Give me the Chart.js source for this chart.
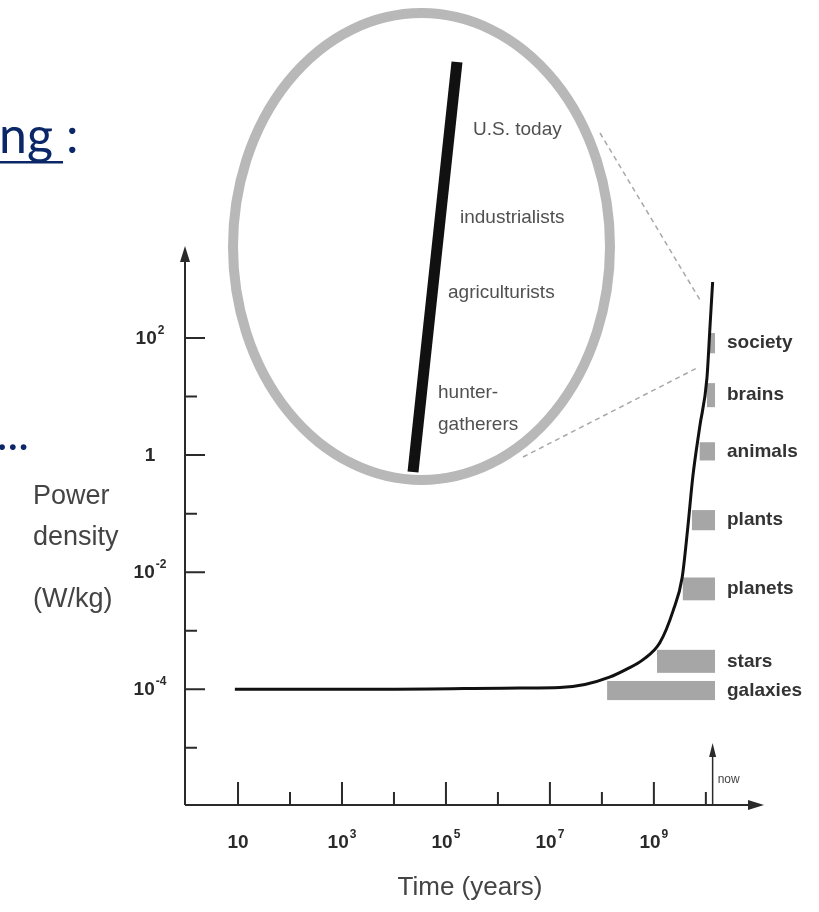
<!DOCTYPE html>
<html>
<head>
<meta charset="utf-8">
<script src="https://cdn.jsdelivr.net/npm/chart.js@4.4.1/dist/chart.umd.min.js"></script>
<style>
  body { margin: 0; background: #fff; }
  #wrap { width: 819px; height: 912px; }
</style>
</head>
<body>
<div id="wrap"><canvas id="powerChart" width="819" height="912"></canvas></div>
<script>
// curve: power density vs time (years)
const timeYears = [8.7, 8e3, 2.6e6, 1.55e7, 4.7e7, 1.4e8, 3.0e8, 6.2e8, 1.3e9, 2.35e9, 3.5e9, 4.5e9, 5.6e9, 7.6e9, 1.05e10, 1.2e10, 1.35e10];
const powerDensity = [1e-4, 1e-4, 1.05e-4, 1.07e-4, 1.2e-4, 1.6e-4, 2.2e-4, 3.2e-4, 6.2e-4, 2.2e-3, 8.1e-3, 0.059, 0.42, 3.0, 21, 155, 910];

// grey range boxes
const boxNames = ['society', 'brains', 'animals', 'plants', 'planets', 'stars', 'galaxies'];
const boxStart = [1.15e10, 1.05e10, 7.6e9, 5.4e9, 3.6e9, 1.15e9, 1.26e8];
const boxEnd = [1.5e10, 1.5e10, 1.5e10, 1.5e10, 1.5e10, 1.5e10, 1.5e10];
const boxHigh = [122, 17, 1.66, 0.115, 8.1e-3, 4.7e-4, 1.38e-4];
const boxLow = [55, 6.6, 0.81, 0.052, 3.3e-3, 1.9e-4, 6.5e-5];

// ticks
const xMajorTicks = [1e1, 1e3, 1e5, 1e7, 1e9];
const xMinorTicks = [1e2, 1e4, 1e6, 1e8, 1e10];
const yMajorTicks = [1e2, 1, 1e-2, 1e-4];
const yMinorTicks = [1e1, 1e-1, 1e-3, 1e-5];
const nowYears = 1.35e10;

const insetLabels = ['U.S. today', 'industrialists', 'agriculturists', 'hunter-', 'gatherers'];

const ink = '#2a2a2a';

function drawPow(ctx, value, cx, cy) {
  const exp = Math.round(Math.log10(value));
  const base = exp === 0 ? '1' : '10';
  const sup = (exp === 0 || exp === 1) ? '' : String(exp);
  ctx.font = 'bold 19px "Liberation Sans", Arial, sans-serif';
  const wb = ctx.measureText(base).width;
  ctx.font = 'bold 12px "Liberation Sans", Arial, sans-serif';
  const ws = sup ? ctx.measureText(sup).width + 1 : 0;
  const left = cx - (wb + ws) / 2;
  ctx.fillStyle = ink;
  ctx.textAlign = 'left';
  ctx.textBaseline = 'middle';
  ctx.font = 'bold 19px "Liberation Sans", Arial, sans-serif';
  ctx.fillText(base, left, cy);
  if (sup) {
    ctx.font = 'bold 12px "Liberation Sans", Arial, sans-serif';
    ctx.fillText(sup, left + wb + 1, cy - 8);
  }
}

function arrow(ctx, x, y, dir, len, half) {
  ctx.beginPath();
  if (dir === 'up') {
    ctx.moveTo(x, y); ctx.lineTo(x - half, y + len); ctx.lineTo(x + half, y + len);
  } else {
    ctx.moveTo(x, y); ctx.lineTo(x - len, y - half); ctx.lineTo(x - len, y + half);
  }
  ctx.closePath();
  ctx.fill();
}

const decorPlugin = {
  id: 'decor',
  beforeDraw(chart) {
    const ctx = chart.ctx;
    ctx.save();
    ctx.fillStyle = '#fff';
    ctx.fillRect(0, 0, chart.width, chart.height);

    // slide text cut off at the left
    ctx.fillStyle = '#0c2767';
    ctx.font = '50px Lato, "Open Sans", sans-serif';
    ctx.textAlign = 'left';
    ctx.textBaseline = 'alphabetic';
    ctx.fillText('ng', -1, 153);
    ctx.fillText(':', 66, 153);
    ctx.fillRect(0, 161, 63, 2.5);
    ctx.font = 'italic 46px Lato, "Open Sans", sans-serif';
    ctx.fillText('...', -2, 450);

    // y-axis title
    ctx.fillStyle = '#444';
    ctx.font = '27px "Liberation Sans", Arial, sans-serif';
    ctx.textBaseline = 'middle';
    ctx.fillText('Power', 33, 497);
    ctx.fillText('density', 33, 538);
    ctx.fillText('(W/kg)', 33, 600);
    ctx.restore();
  },
  beforeDatasetsDraw(chart) {
    const ctx = chart.ctx;
    const xs = chart.scales.x, ys = chart.scales.y;
    const a = chart.chartArea;
    ctx.save();

    // axes
    ctx.strokeStyle = ink;
    ctx.fillStyle = ink;
    ctx.lineWidth = 2;
    ctx.beginPath();
    ctx.moveTo(a.left, a.bottom); ctx.lineTo(a.left, a.top + 10);
    ctx.moveTo(a.left, a.bottom); ctx.lineTo(a.right - 10, a.bottom);
    ctx.stroke();
    arrow(ctx, a.left, a.top - 2, 'up', 16, 5);
    arrow(ctx, a.right + 2, a.bottom, 'right', 16, 5);

    // ticks point inward
    ctx.beginPath();
    xMajorTicks.forEach(v => { const px = xs.getPixelForValue(v); ctx.moveTo(px, a.bottom); ctx.lineTo(px, a.bottom - 23); });
    xMinorTicks.forEach(v => { const px = xs.getPixelForValue(v); ctx.moveTo(px, a.bottom); ctx.lineTo(px, a.bottom - 13); });
    yMajorTicks.forEach(v => { const py = ys.getPixelForValue(v); ctx.moveTo(a.left, py); ctx.lineTo(a.left + 20, py); });
    yMinorTicks.forEach(v => { const py = ys.getPixelForValue(v); ctx.moveTo(a.left, py); ctx.lineTo(a.left + 12, py); });
    ctx.stroke();

    xMajorTicks.forEach(v => drawPow(ctx, v, xs.getPixelForValue(v), a.bottom + 38));
    yMajorTicks.forEach(v => drawPow(ctx, v, 150, ys.getPixelForValue(v) + 1));

    ctx.fillStyle = '#444';
    ctx.font = '26px "Liberation Sans", Arial, sans-serif';
    ctx.textAlign = 'center';
    ctx.textBaseline = 'middle';
    ctx.fillText('Time (years)', 470, 888);

    // "now" marker
    const nx = xs.getPixelForValue(nowYears);
    ctx.strokeStyle = ink;
    ctx.fillStyle = ink;
    ctx.lineWidth = 1.5;
    ctx.beginPath(); ctx.moveTo(nx, a.bottom); ctx.lineTo(nx, a.bottom - 52); ctx.stroke();
    arrow(ctx, nx, a.bottom - 62, 'up', 14, 3.5);
    ctx.fillStyle = '#444';
    ctx.font = '12px "Liberation Sans", Arial, sans-serif';
    ctx.textAlign = 'left';
    ctx.fillText('now', nx + 5, a.bottom - 25);

    // range boxes with labels
    boxNames.forEach((name, i) => {
      const x1 = xs.getPixelForValue(boxStart[i]);
      const x2 = xs.getPixelForValue(boxEnd[i]);
      const y1 = ys.getPixelForValue(boxHigh[i]);
      const y2 = ys.getPixelForValue(boxLow[i]);
      ctx.fillStyle = '#a6a6a6';
      ctx.fillRect(x1, y1, x2 - x1, y2 - y1);
      ctx.fillStyle = '#333';
      ctx.font = 'bold 19px "Liberation Sans", Arial, sans-serif';
      ctx.textBaseline = 'middle';
      ctx.fillText(name, x2 + 12, (y1 + y2) / 2);
    });

    // zoom inset
    ctx.setLineDash([5, 4]);
    ctx.strokeStyle = '#a8a8a8';
    ctx.lineWidth = 1.5;
    ctx.beginPath();
    ctx.moveTo(600, 133); ctx.lineTo(700, 300);
    ctx.moveTo(523, 457); ctx.lineTo(697, 368);
    ctx.stroke();
    ctx.setLineDash([]);

    ctx.beginPath();
    ctx.ellipse(421.5, 246.5, 188.5, 233.5, 0, 0, Math.PI * 2);
    ctx.fillStyle = '#fff';
    ctx.fill();
    ctx.strokeStyle = '#b8b8b8';
    ctx.lineWidth = 10;
    ctx.stroke();

    ctx.strokeStyle = '#111';
    ctx.lineWidth = 11;
    ctx.beginPath(); ctx.moveTo(457, 62); ctx.lineTo(413, 472); ctx.stroke();

    ctx.fillStyle = '#505050';
    ctx.font = '19px "Liberation Sans", Arial, sans-serif';
    ctx.textAlign = 'left';
    ctx.textBaseline = 'middle';
    const insetPos = [[473, 130], [460, 218], [448, 293], [438, 393], [438, 425]];
    insetLabels.forEach((t, i) => ctx.fillText(t, insetPos[i][0], insetPos[i][1]));

    ctx.restore();
  }
};

new Chart(document.getElementById('powerChart'), {
  type: 'line',
  data: {
    labels: timeYears,
    datasets: [{
      data: timeYears.map((t, i) => ({ x: t, y: powerDensity[i] })),
      borderColor: '#111',
      borderWidth: 3,
      pointRadius: 0,
      cubicInterpolationMode: 'monotone',
      fill: false,
      clip: false
    }]
  },
  options: {
    responsive: false,
    animation: false,
    layout: { padding: { left: 185, right: 57, top: 248, bottom: 107 } },
    plugins: { legend: { display: false }, tooltip: { enabled: false } },
    scales: {
      x: { type: 'logarithmic', min: Math.pow(10, -0.02), max: Math.pow(10, 11.08), display: false },
      y: { type: 'logarithmic', min: Math.pow(10, -5.98), max: Math.pow(10, 3.54), display: false }
    }
  },
  plugins: [decorPlugin]
});
</script>
</body>
</html>
